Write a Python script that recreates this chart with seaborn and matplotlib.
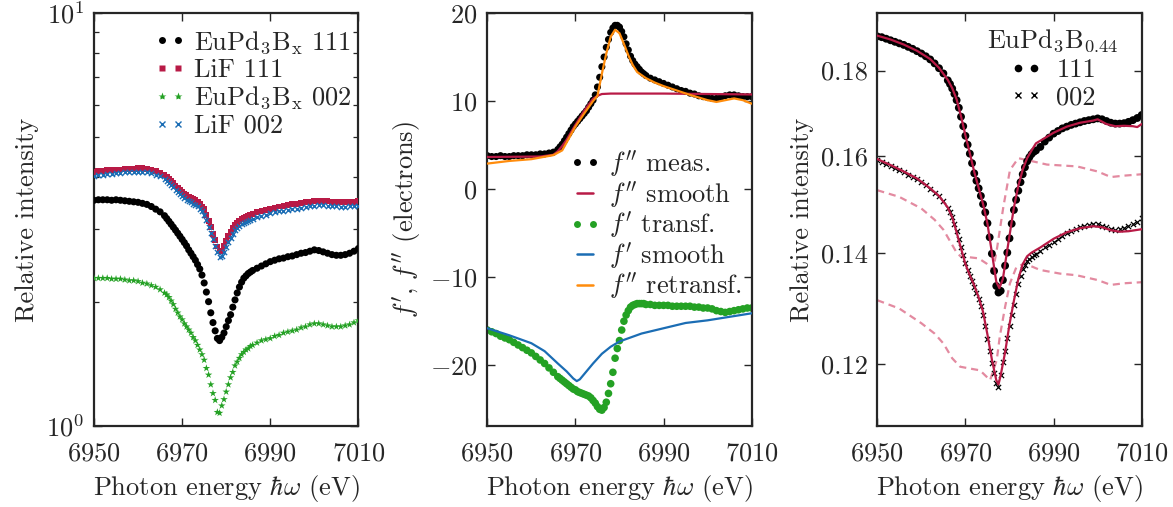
import numpy as np
import pandas as pd
import matplotlib
matplotlib.use("Agg")
import matplotlib.pyplot as plt
import matplotlib.ticker as mticker
from matplotlib.lines import Line2D
import seaborn as sns

# ---------------- data ----------------
# energy grid: 1 eV steps, 0.5 eV steps through the edge region 6966-6986
energy = np.concatenate([np.arange(6950, 6966, 1.0),
                         np.arange(6966, 6986.5, 0.5),
                         np.arange(6987, 7011, 1.0)])

# panel 1 (log scale)
eupd_111 = [3.52, 3.53, 3.53, 3.53, 3.52, 3.53, 3.52, 3.51, 3.50, 3.49,
            3.48, 3.46, 3.44, 3.40, 3.35, 3.30,
            3.23, 3.18, 3.13, 3.08, 3.03, 2.98, 2.93, 2.88, 2.83, 2.78,
            2.73, 2.67, 2.62, 2.57, 2.52, 2.46, 2.40, 2.32, 2.22, 2.11,
            2.00, 1.88, 1.78, 1.70, 1.63, 1.61, 1.64, 1.68, 1.74, 1.80,
            1.86, 1.94, 2.02, 2.10, 2.17, 2.23, 2.28, 2.31, 2.34, 2.36, 2.38,
            2.41, 2.44, 2.47, 2.50, 2.52, 2.54, 2.55, 2.57, 2.58, 2.60,
            2.62, 2.63, 2.65, 2.67, 2.66, 2.64, 2.62, 2.60, 2.59, 2.59,
            2.60, 2.62, 2.65, 2.69]
lif_111 = [4.13, 4.14, 4.15, 4.16, 4.17, 4.18, 4.18, 4.19, 4.20, 4.20,
           4.21, 4.21, 4.20, 4.18, 4.15, 4.11,
           4.05, 4.01, 3.97, 3.92, 3.87, 3.82, 3.77, 3.73, 3.69, 3.65,
           3.62, 3.59, 3.57, 3.54, 3.52, 3.49, 3.45, 3.40, 3.35, 3.25,
           3.13, 3.03, 2.92, 2.82, 2.72, 2.65, 2.66, 2.73, 2.80, 2.88,
           2.95, 3.01, 3.07, 3.11, 3.14, 3.17, 3.19, 3.21, 3.23, 3.25, 3.26,
           3.29, 3.32, 3.34, 3.36, 3.38, 3.40, 3.41, 3.43, 3.44, 3.45,
           3.46, 3.48, 3.49, 3.50, 3.51, 3.51, 3.50, 3.49, 3.49, 3.48,
           3.48, 3.49, 3.49, 3.50]
eupd_002 = [2.28, 2.28, 2.28, 2.28, 2.27, 2.27, 2.27, 2.26, 2.25, 2.25,
            2.24, 2.22, 2.21, 2.19, 2.17, 2.14,
            2.10, 2.08, 2.05, 2.01, 1.97, 1.92, 1.88, 1.84, 1.81, 1.77,
            1.74, 1.71, 1.68, 1.64, 1.61, 1.57, 1.53, 1.49, 1.445, 1.38,
            1.33, 1.26, 1.20, 1.155, 1.08, 1.075, 1.12, 1.16, 1.21, 1.26,
            1.31, 1.35, 1.40, 1.43, 1.46, 1.49, 1.51, 1.53, 1.54, 1.56, 1.57,
            1.59, 1.61, 1.62, 1.63, 1.65, 1.66, 1.68, 1.69, 1.70, 1.71,
            1.73, 1.74, 1.76, 1.77, 1.77, 1.76, 1.75, 1.74, 1.74, 1.74,
            1.75, 1.76, 1.78, 1.80]
lif_002 = [4.04, 4.05, 4.06, 4.07, 4.08, 4.09, 4.10, 4.11, 4.11, 4.12,
           4.12, 4.12, 4.11, 4.09, 4.06, 4.02,
           3.96, 3.92, 3.88, 3.83, 3.78, 3.73, 3.68, 3.64, 3.60, 3.56,
           3.53, 3.50, 3.48, 3.45, 3.43, 3.40, 3.36, 3.31, 3.25, 3.15,
           3.04, 2.93, 2.83, 2.73, 2.64, 2.57, 2.58, 2.64, 2.71, 2.79,
           2.86, 2.92, 2.98, 3.02, 3.05, 3.08, 3.10, 3.12, 3.14, 3.16, 3.17,
           3.20, 3.23, 3.25, 3.27, 3.29, 3.31, 3.32, 3.34, 3.35, 3.36,
           3.37, 3.39, 3.40, 3.41, 3.42, 3.42, 3.41, 3.40, 3.40, 3.39,
           3.39, 3.40, 3.40, 3.41]

# panel 2
f2_meas = [3.8, 3.7, 3.7, 3.8, 3.7, 3.7, 3.8, 3.8, 3.8, 3.9,
           3.9, 3.9, 4.0, 4.0, 4.1, 4.2,
           4.5, 4.8, 5.1, 5.5, 5.9, 6.3, 6.7, 7.1, 7.4, 7.7,
           8.0, 8.3, 8.6, 8.9, 9.3, 9.7, 10.1, 10.7, 11.6, 12.7,
           13.9, 15.0, 16.1, 17.0, 17.8, 18.3, 18.6, 18.6, 18.4, 17.9,
           17.3, 16.5, 15.8, 15.1, 14.6, 14.2, 13.9, 13.6, 13.3, 13.1, 12.9,
           12.6, 12.4, 12.2, 12.0, 11.8, 11.6, 11.4, 11.2, 11.1, 10.9,
           10.8, 10.6, 10.5, 10.4, 10.3, 10.3, 10.4, 10.6, 10.7, 10.7,
           10.6, 10.5, 10.5, 10.5]
f1_transf = [-16.0, -16.2, -16.4, -16.7, -16.9, -17.1, -17.4, -17.7, -18.0, -18.3,
             -18.6, -19.0, -19.4, -19.8, -20.3, -20.8,
             -21.3, -21.5, -21.7, -21.9, -22.1, -22.3, -22.5, -22.7, -22.8, -23.0,
             -23.1, -23.2, -23.3, -23.4, -23.5, -23.7, -24.0, -24.3, -24.7, -25.0,
             -25.1, -24.8, -24.2, -23.2, -22.1, -20.8, -19.2, -18.1, -17.2, -16.0,
             -15.0, -14.3, -13.8, -13.4, -13.2, -13.1, -13.0, -13.0, -13.0, -13.0, -13.1,
             -13.1, -13.2, -13.2, -13.2, -13.2, -13.3, -13.3, -13.3, -13.3, -13.3,
             -13.4, -13.4, -13.5, -13.5, -13.6, -13.8, -13.9, -14.0, -13.9, -13.8,
             -13.7, -13.6, -13.5, -13.5]
f2_smooth_e = [6950, 6962, 6965, 6966, 6967, 6968, 6970, 6972, 6973, 6974,
               6975, 6976, 6978, 6990, 7010]
f2_smooth = [3.65, 3.7, 3.9, 4.3, 4.9, 5.6, 7.3, 8.9, 9.6, 10.25,
             10.6, 10.8, 10.85, 10.85, 10.75]
f1_smooth_e = [6950, 6955, 6960, 6963, 6966, 6968, 6969.5, 6970.3, 6971, 6972,
               6974, 6976, 6978, 6980, 6985, 6990, 6995, 7000, 7005, 7010]
f1_smooth = [-15.8, -16.6, -17.5, -18.4, -19.8, -20.7, -21.5, -21.8, -21.6, -21.0,
             -19.8, -18.7, -17.9, -17.3, -16.4, -15.8, -15.2, -14.9, -14.5, -14.1]
f2_retr_e = [6950, 6955, 6960, 6965, 6967, 6970, 6972, 6974, 6975, 6976,
             6977, 6978, 6979, 6980, 6981, 6982, 6983, 6984, 6986, 6988,
             6990, 6993, 6996, 7000, 7002, 7004, 7006, 7008, 7010]
f2_retr = [2.9, 3.2, 3.4, 3.86, 4.4, 7.1, 8.6, 10.0, 10.6, 13.1,
           15.4, 17.3, 18.1, 17.7, 16.5, 15.2, 14.1, 13.3, 12.6, 12.1,
           11.7, 11.2, 10.7, 10.1, 9.9, 10.1, 10.3, 10.1, 9.7]

# panel 3 (log scale)
int_111 = [0.1887, 0.1885, 0.1881, 0.1877, 0.1873, 0.1869, 0.1865, 0.1860, 0.1855, 0.1849,
           0.1843, 0.1836, 0.1828, 0.1818, 0.1806, 0.1793,
           0.1776, 0.1767, 0.1756, 0.1743, 0.1728, 0.1710, 0.1689, 0.1667, 0.1645, 0.1625,
           0.1605, 0.1584, 0.1562, 0.1546, 0.1530, 0.1514, 0.1497, 0.1480, 0.1458, 0.1430,
           0.1398, 0.1365, 0.1337, 0.1325, 0.1328, 0.1348, 0.1375, 0.1400, 0.1428, 0.1457,
           0.1485, 0.1506, 0.1525, 0.1543, 0.1560, 0.1575, 0.1588, 0.1597, 0.1604, 0.1609, 0.1612,
           0.1620, 0.1632, 0.1641, 0.1650, 0.1656, 0.1662, 0.1666, 0.1670, 0.1673, 0.1676,
           0.1679, 0.1681, 0.1683, 0.1685, 0.1683, 0.1679, 0.1675, 0.1673, 0.1673, 0.1674,
           0.1677, 0.1681, 0.1686, 0.1693]
int_002 = [0.1591, 0.1587, 0.1582, 0.1578, 0.1573, 0.1569, 0.1564, 0.1559, 0.1554, 0.1549,
           0.1544, 0.1536, 0.1528, 0.1520, 0.1513, 0.1503,
           0.1489, 0.1480, 0.1470, 0.1457, 0.1443, 0.1427, 0.1411, 0.1395, 0.1380, 0.1367,
           0.1356, 0.1346, 0.1336, 0.1325, 0.1313, 0.1300, 0.1285, 0.1265, 0.1243, 0.1222,
           0.1202, 0.1185, 0.1170, 0.1163, 0.1183, 0.1203, 0.1222, 0.1244, 0.1265, 0.1285,
           0.1303, 0.1322, 0.1341, 0.1356, 0.1368, 0.1377, 0.1384, 0.1388, 0.1391, 0.1395, 0.1398,
           0.1404, 0.1410, 0.1415, 0.1420, 0.1426, 0.1432, 0.1438, 0.1443, 0.1447, 0.1451,
           0.1453, 0.1455, 0.1456, 0.1456, 0.1453, 0.1450, 0.1447, 0.1444, 0.1446, 0.1449,
           0.1452, 0.1456, 0.1461, 0.1468]
fit_111_e = [6950, 6953, 6956, 6959, 6962, 6964, 6966, 6967, 6968, 6969,
             6970, 6971, 6972, 6973, 6974, 6975, 6976, 6977, 6977.7, 6978.5,
             6979, 6980, 6981, 6982, 6983, 6984, 6985, 6986, 6988, 6990,
             6993, 6996, 6999, 7000, 7002, 7004, 7006, 7008, 7009, 7010]
fit_111 = [0.1889, 0.1879, 0.1866, 0.1850, 0.1829, 0.1807, 0.1777, 0.1757, 0.1730, 0.1690,
           0.1646, 0.1606, 0.1565, 0.1531, 0.1497, 0.1457, 0.1400, 0.1345, 0.1333, 0.1350,
           0.1378, 0.1433, 0.1490, 0.1535, 0.1570, 0.1595, 0.1612, 0.1628, 0.1640, 0.1652,
           0.1666, 0.1675, 0.1680, 0.1683, 0.1672, 0.1667, 0.1668, 0.1667, 0.1665, 0.1672]
fit_002_e = [6950, 6953, 6956, 6959, 6962, 6964, 6966, 6967, 6968, 6969,
             6970, 6971, 6972, 6973, 6974, 6975, 6976, 6977, 6977.5, 6978,
             6979, 6980, 6981, 6982, 6983, 6984, 6985, 6987, 6990, 6993,
             6996, 6999, 7001, 7003, 7005, 7007, 7010]
fit_002 = [0.1593, 0.1580, 0.1566, 0.1551, 0.1530, 0.1514, 0.1490, 0.1470, 0.1440, 0.1408,
           0.1378, 0.1357, 0.1338, 0.1316, 0.1290, 0.1250, 0.1208, 0.1174, 0.1167, 0.1182,
           0.1220, 0.1268, 0.1310, 0.1350, 0.1378, 0.1393, 0.1400, 0.1410, 0.1427, 0.1440,
           0.1448, 0.1452, 0.1450, 0.1444, 0.1441, 0.1442, 0.1446]
dash_hi_e = [6950, 6955, 6960, 6963, 6965, 6967, 6968, 6969, 6971, 6973,
             6974.8, 6976.3, 6977.2, 6978.6, 6980.1, 6982, 6985.3, 6988.5, 6995.3, 7000,
             7003, 7006, 7010]
dash_hi = [0.1526, 0.1512, 0.1488, 0.1465, 0.1445, 0.1415, 0.1400, 0.1392, 0.1391, 0.1389,
           0.1379, 0.1367, 0.1410, 0.1491, 0.1569, 0.1595, 0.1588, 0.1581, 0.1577, 0.1566,
           0.1554, 0.1557, 0.1560]
dash_lo_e = [6950, 6955, 6960, 6963, 6965, 6967, 6968.8, 6971, 6973.3, 6975.6,
             6977.1, 6977.8, 6979, 6980.1, 6981.6, 6983.5, 6986.9, 6991.5, 6995.2, 7000,
             7003, 7006, 7010]
dash_lo = [0.1311, 0.1296, 0.1270, 0.1252, 0.1235, 0.1210, 0.1196, 0.1193, 0.1190, 0.1174,
           0.1207, 0.1247, 0.1299, 0.1342, 0.1373, 0.1379, 0.1367, 0.1360, 0.1357, 0.1348,
           0.1339, 0.1342, 0.1344]

xticks = [6950, 6970, 6990, 7010]

# ---------------- style ----------------
FS = 19
sns.set_style("ticks")
plt.rcParams.update({
    "font.family": "serif",
    "font.serif": ["cmr10", "DejaVu Serif"],
    "mathtext.fontset": "cm",
    "axes.formatter.use_mathtext": True,
    "font.size": FS,
    "axes.linewidth": 1.6,
    "xtick.direction": "in",
    "ytick.direction": "in",
    "xtick.top": True,
    "ytick.right": True,
    "xtick.major.size": 6,
    "ytick.major.size": 6,
    "xtick.minor.size": 3.5,
    "ytick.minor.size": 3.5,
    "xtick.major.width": 1.0,
    "ytick.major.width": 1.0,
    "ytick.minor.width": 0.9,
    "xtick.major.pad": 11.5,
    "ytick.major.pad": 7,
    "axes.labelpad": 5,
})

BLACK = "#000000"
RED = "#b81a46"
GREEN = "#24a124"
BLUE = "#1b6db4"
ORANGE = "#ff8c0c"
PINK = "#e38aa0"

fig = plt.figure(figsize=(11.73, 5.07), dpi=100)
W = 264.4 / 1173
B = (507 - 426) / 507
H = 413 / 507
ax1 = fig.add_axes([94 / 1173, B, W, H])
ax2 = fig.add_axes([487.3 / 1173, B, W, H])
ax3 = fig.add_axes([877.3 / 1173, B, W, H])

xlabel = r"Photon energy $\hbar\omega$ (eV)"
leg_kw = dict(frameon=False, numpoints=2, borderpad=0, borderaxespad=0, fontsize=FS,
              handlelength=1.2)

# ---------------- panel 1 ----------------
d1 = pd.DataFrame({"E": energy, "a": eupd_111, "b": lif_111, "c": eupd_002, "d": lif_002})
sns.scatterplot(data=d1, x="E", y="a", ax=ax1, marker="o", s=26, color=BLACK, edgecolor="none", zorder=3)
sns.scatterplot(data=d1, x="E", y="b", ax=ax1, marker="s", s=18, color=RED, edgecolor="none", zorder=3)
sns.scatterplot(data=d1, x="E", y="c", ax=ax1, marker="*", s=32, color=GREEN, edgecolor="none", zorder=3)
sns.scatterplot(data=d1, x="E", y="d", ax=ax1, marker="x", s=14, color=BLUE, linewidth=1.0, zorder=4)
ax1.set_yscale("log")
ax1.set_ylim(1, 10)
ax1.set_xlim(6950, 7010)
ax1.set_xticks(xticks)
ax1.set_ylabel("Relative intensity")
ax1.set_xlabel(xlabel)
ax1.yaxis.set_major_locator(mticker.LogLocator(base=10, numticks=5))
ax1.yaxis.set_minor_locator(mticker.LogLocator(base=10, subs=np.arange(2, 10), numticks=10))
ax1.yaxis.set_minor_formatter(mticker.NullFormatter())
h1 = [Line2D([], [], ls="none", marker="o", ms=5, color=BLACK, mec="none"),
      Line2D([], [], ls="none", marker="s", ms=4.5, color=RED, mec="none"),
      Line2D([], [], ls="none", marker="*", ms=6, color=GREEN, mec="none"),
      Line2D([], [], ls="none", marker="x", ms=4, color=BLUE, mew=1.0)]
l1 = [r"$\mathrm{EuPd_3B_x}$ 111", "LiF 111", r"$\mathrm{EuPd_3B_x}$ 002", "LiF 002"]
ax1.legend(h1, l1, loc="upper left", bbox_to_anchor=(0.227, 0.962), labelspacing=0.1,
           handletextpad=0.3, **leg_kw)

# ---------------- panel 2 ----------------
d2 = pd.DataFrame({"E": energy, "meas": f2_meas, "tr": f1_transf})
sns.scatterplot(data=d2, x="E", y="meas", ax=ax2, marker="o", s=26, color=BLACK, edgecolor="none", zorder=2)
sns.lineplot(x=f2_smooth_e, y=f2_smooth, ax=ax2, color=RED, lw=1.6, zorder=3)
sns.scatterplot(data=d2, x="E", y="tr", ax=ax2, marker="o", s=30, color=GREEN, edgecolor="none", zorder=2)
sns.lineplot(x=f1_smooth_e, y=f1_smooth, ax=ax2, color=BLUE, lw=1.6, zorder=3)
sns.lineplot(x=f2_retr_e, y=f2_retr, ax=ax2, color=ORANGE, lw=1.6, zorder=4)
ax2.set_xlim(6950, 7010)
ax2.set_ylim(-26.9, 20)
ax2.set_xticks(xticks)
ax2.set_yticks([-20, -10, 0, 10, 20])
ax2.set_xlabel(xlabel)
ax2.set_ylabel(r"$f',\,f''$ (electrons)")
h2 = [Line2D([], [], ls="none", marker="o", ms=5, color=BLACK, mec="none"),
      Line2D([], [], color=RED, lw=1.8),
      Line2D([], [], ls="none", marker="o", ms=5, color=GREEN, mec="none"),
      Line2D([], [], color=BLUE, lw=1.8),
      Line2D([], [], color=ORANGE, lw=1.8)]
l2 = [r"$f''$ meas.", r"$f''$ smooth", r"$f'$ transf.", r"$f'$ smooth", r"$f''$ retransf."]
ax2.legend(h2, l2, loc="upper left", bbox_to_anchor=(0.309, 0.672), labelspacing=0.0,
           handletextpad=0.3, **leg_kw)

# ---------------- panel 3 ----------------
d3 = pd.DataFrame({"E": energy, "a": int_111, "b": int_002})
sns.lineplot(x=dash_hi_e, y=dash_hi, ax=ax3, color=PINK, lw=1.6, ls=(0, (3.2, 2.2)), zorder=1)
sns.lineplot(x=dash_lo_e, y=dash_lo, ax=ax3, color=PINK, lw=1.6, ls=(0, (3.2, 2.2)), zorder=1)
sns.scatterplot(data=d3, x="E", y="a", ax=ax3, marker="o", s=32, color=BLACK, edgecolor="none", zorder=2)
sns.scatterplot(data=d3, x="E", y="b", ax=ax3, marker="x", s=14, color=BLACK, linewidth=0.9, zorder=2)
sns.lineplot(x=fit_111_e, y=fit_111, ax=ax3, color=RED, lw=1.6, zorder=3)
sns.lineplot(x=fit_002_e, y=fit_002, ax=ax3, color=RED, lw=1.6, zorder=3)
ax3.set_yscale("log")
ax3.set_xlim(6950, 7010)
ax3.set_ylim(0.1102, 0.1949)
ax3.set_xticks(xticks)
ax3.yaxis.set_major_locator(mticker.FixedLocator([0.12, 0.14, 0.16, 0.18]))
ax3.yaxis.set_major_formatter(mticker.FormatStrFormatter("%.2f"))
ax3.yaxis.set_minor_locator(mticker.NullLocator())
ax3.set_xlabel(xlabel)
ax3.set_ylabel("Relative intensity")
h3 = [Line2D([], [], ls="none", marker="o", ms=5.5, color=BLACK, mec="none"),
      Line2D([], [], ls="none", marker="x", ms=4, color=BLACK, mew=1.0)]
ax3.legend(h3, ["111", "002"], title=r"$\mathrm{EuPd_3B_{0.44}}$", title_fontsize=FS,
           loc="upper left", bbox_to_anchor=(0.416, 0.965), labelspacing=0.15,
           handletextpad=0.55, **leg_kw)

for ax in (ax1, ax2, ax3):
    ax.tick_params(which="both", top=True, right=True, direction="in", labelsize=FS)
    for s in ax.spines.values():
        s.set_linewidth(1.6)
    ax.xaxis.label.set_size(FS)
    ax.yaxis.label.set_size(FS)

fig.savefig("out.png", dpi=100)
